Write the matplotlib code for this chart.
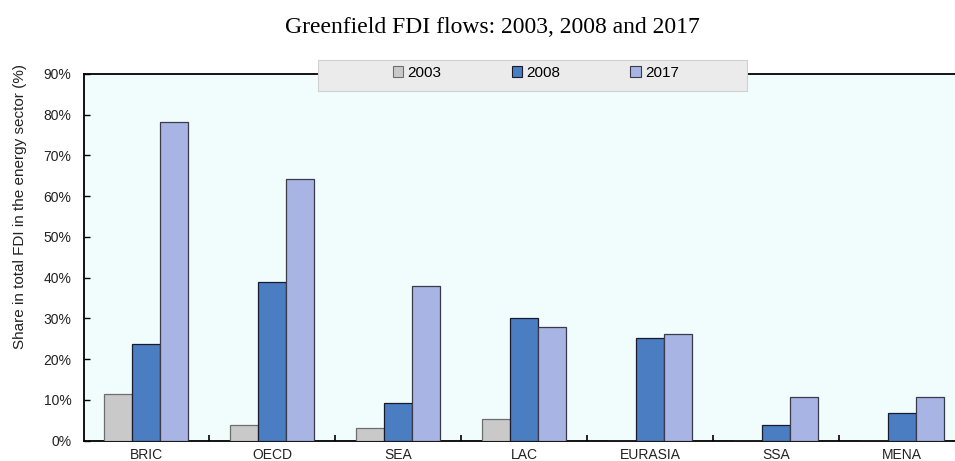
import matplotlib
matplotlib.use("Agg")
import matplotlib.pyplot as plt
from matplotlib.patches import Rectangle, Patch
from matplotlib.ticker import FixedLocator, PercentFormatter
import numpy as np

regions = ["BRIC", "OECD", "SEA", "LAC", "EURASIA", "SSA", "MENA"]
years = ["2003", "2008", "2017"]
share_2003 = [11.4, 3.9, 3.2, 5.4, 0.0, 0.0, 0.0]
share_2008 = [23.7, 38.9, 9.2, 30.2, 25.2, 3.8, 6.7]
share_2017 = [78.3, 64.2, 38.0, 27.9, 26.1, 10.8, 10.7]
y_ticks = [0, 10, 20, 30, 40, 50, 60, 70, 80, 90]

series = [share_2003, share_2008, share_2017]
faces = ["#C9C9C9", "#4A7DC2", "#A7B4E4"]
edges = ["#6E6E6E", "#1A1A2E", "#3A3A4A"]

sans = ["Liberation Sans", "DejaVu Sans"]

fig = plt.figure(figsize=(9.55, 4.61), dpi=100)
fig.patch.set_facecolor("white")
ax = fig.add_axes([0.088, 0.044, 0.912, 0.7955])
ax.set_facecolor("#F1FCFC")

x = np.arange(len(regions))
w = 0.222
for i, vals in enumerate(series):
    ax.bar(x + (i - 1) * w, vals, width=w, color=faces[i], edgecolor=edges[i],
           linewidth=0.9, zorder=3)

ax.set_xlim(-0.493, 6.42)
ax.set_ylim(0, 90)
ax.set_yticks(y_ticks)
ax.yaxis.set_major_formatter(PercentFormatter(decimals=0))
ax.set_xticks(x)
ax.set_xticklabels(regions)
ax.xaxis.set_minor_locator(FixedLocator(x[:-1] + 0.5))
ax.tick_params(axis="x", which="major", length=0, pad=5)
ax.tick_params(axis="x", which="minor", direction="in", length=4, width=1.2, color="black")
ax.tick_params(axis="y", direction="in", length=4, width=1.0, pad=9)
for lab in ax.get_xticklabels() + ax.get_yticklabels():
    lab.set_family(sans)
    lab.set_fontsize(10)
    lab.set_color("#222222")

for side in ["left", "bottom", "top"]:
    ax.spines[side].set_color("black")
    ax.spines[side].set_linewidth(1.3)
ax.spines["right"].set_visible(False)

ax.set_ylabel("Share in total FDI in the energy sector (%)", family=sans,
              fontsize=11, color="#222222")
ax.yaxis.set_label_coords(-0.066, 0.638)

fig.text(0.516, 0.941, "Greenfield FDI flows: 2003, 2008 and 2017",
         family=["Liberation Serif", "DejaVu Serif"], fontsize=17,
         ha="center", va="center")

# legend strip over the top edge of the plot
fig.patches.append(Rectangle((0.333, 0.802), 0.449, 0.068, transform=fig.transFigure,
                             facecolor="#EBEBEB", edgecolor="#D0D0D0", linewidth=0.8,
                             zorder=5))
handles = [Patch(facecolor=faces[i], edgecolor=edges[i], linewidth=0.8, label=years[i])
           for i in range(3)]
leg = fig.legend(handles=handles, loc="center", bbox_to_anchor=(0.561, 0.842),
                 ncol=3, frameon=False, handlelength=0.7, handleheight=0.7,
                 handletextpad=0.25, columnspacing=4.6,
                 prop={"family": sans, "size": 11})
leg.set_zorder(6)

fig.savefig("out.png", dpi=100)
